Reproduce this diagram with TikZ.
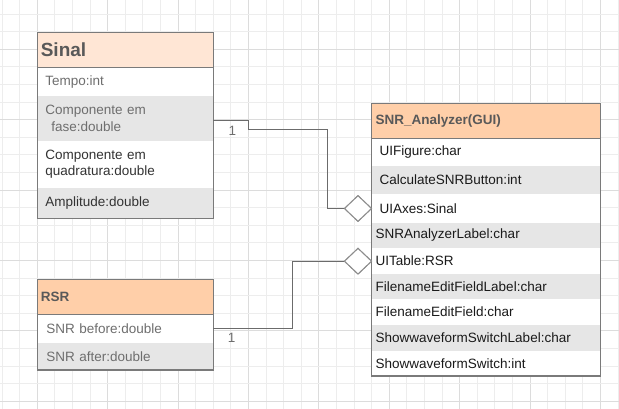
\documentclass[tikz,border=0pt]{standalone}
\usepackage{fontspec}
\setmainfont{Liberation Sans}
\usetikzlibrary{shapes.geometric}
\definecolor{gridminor}{HTML}{EDEDED}
\definecolor{gridmajor}{HTML}{DCDCDC}
\definecolor{hdrlight}{HTML}{FFE6D5}
\definecolor{hdrpeach}{HTML}{FFCFA9}
\definecolor{rowgray}{HTML}{E6E6E6}
\definecolor{boxline}{HTML}{7A7A7A}
\definecolor{conncol}{HTML}{6B6B6B}
\definecolor{dialine}{HTML}{8C8C8C}
\definecolor{hdrtext}{HTML}{595959}
\definecolor{softtext}{HTML}{6E6E6E}
\definecolor{darktext}{HTML}{333333}
\definecolor{blacktext}{HTML}{1A1A1A}
\begin{document}
\begin{tikzpicture}[x=1pt,y=-1pt,
  cell/.style={anchor=north west, inner ysep=0pt, outer sep=0pt, align=left,
    font=\fontsize{13.5}{16.7}\selectfont},
  hdr/.style={cell, font=\fontsize{13.5}{16.7}\selectfont\bfseries, text=hdrtext},
  outline/.style={draw=boxline, line width=1.3pt},
  conn/.style={draw=conncol, line width=1pt},
  agg/.style={diamond, draw=dialine, fill=white, line width=1pt, inner sep=0pt,
    minimum width=27.4pt, minimum height=26pt},
  mult/.style={text=softtext, font=\fontsize{13.5}{16}\selectfont, inner sep=0pt}
]
\useasboundingbox (0,0) rectangle (619,409);
\fill[white] (0,0) rectangle (619,409);
% grid
\foreach \i in {0,...,35}{
  \pgfmathsetmacro\xx{2.1+17.6*\i}
  \pgfmathtruncatemacro\mm{mod(\i,4)}
  \ifnum\mm=2 \draw[gridmajor,line width=1pt] (\xx,0) -- (\xx,409);
  \else \draw[gridminor,line width=1pt] (\xx,0) -- (\xx,409); \fi
}
\foreach \j in {0,...,22}{
  \pgfmathsetmacro\yy{14.1+17.6*\j}
  \pgfmathtruncatemacro\mm{mod(\j,4)}
  \ifnum\mm=2 \draw[gridmajor,line width=1pt] (0,\yy) -- (619,\yy);
  \else \draw[gridminor,line width=1pt] (0,\yy) -- (619,\yy); \fi
}

% ---------- Sinal ----------
\node[hdr, fill=hdrlight, minimum width=176pt, minimum height=35pt, text width=170pt,
  inner xsep=3.5pt, font=\fontsize{19}{22}\selectfont\bfseries] (sH) at (37.3,32.7) {Sinal};
\node[cell, fill=white, text=softtext, minimum width=176pt, minimum height=28.3pt,
  text width=160pt, inner xsep=8pt] (sT) at (37.3,67.7) {Tempo:int};
\node[cell, fill=rowgray, text=softtext, minimum width=176pt, minimum height=44.7pt,
  text width=160pt, inner xsep=8pt] (sF) at (37.3,96) {Componente em\\\hspace*{6pt}fase:double};
\node[cell, fill=white, text=darktext, minimum width=176pt, minimum height=47pt,
  text width=160pt, inner xsep=8pt] (sQ) at (37.3,140.7) {Componente em\\quadratura:double};
\node[cell, fill=rowgray, text=darktext, minimum width=176pt, minimum height=30.6pt,
  text width=160pt, inner xsep=8pt] (sA) at (37.3,187.7) {Amplitude:double};
\draw[outline] (sH.north west) rectangle (sA.south east);
\draw[outline] (sH.south west) -- (sH.south east);

% ---------- RSR ----------
\node[hdr, fill=hdrpeach, minimum width=176pt, minimum height=35pt, text width=170pt,
  inner xsep=3.5pt] (rH) at (37.3,279.3) {RSR};
\node[cell, fill=white, text=softtext, minimum width=176pt, minimum height=28.4pt,
  text width=158pt, inner xsep=8.5pt] (r1) at (37.3,314.3) {SNR before:double};
\node[cell, fill=rowgray, text=softtext, minimum width=176pt, minimum height=27.3pt,
  text width=158pt, inner xsep=8.5pt] (r2) at (37.3,342.7) {SNR after:double};
\draw[outline] (rH.north west) rectangle (r2.south east);
\draw[outline] (rH.south west) -- (rH.south east);

% ---------- SNR_Analyzer ----------
\node[hdr, fill=hdrpeach, minimum width=229pt, minimum height=35pt, text width=221pt,
  inner xsep=4pt] (aH) at (371.7,103.3) {SNR\_Analyzer(GUI)};
\node[cell, fill=white, text=blacktext, minimum width=229pt, minimum height=27.7pt,
  text width=213pt, inner xsep=8pt] (a1) at (371.7,138.3) {UIFigure:char};
\node[cell, fill=rowgray, text=blacktext, minimum width=229pt, minimum height=28.3pt,
  text width=213pt, inner xsep=8pt] (a2) at (371.7,166) {CalculateSNRButton:int};
\node[cell, fill=white, text=blacktext, minimum width=229pt, minimum height=28.4pt,
  text width=213pt, inner xsep=8pt] (a3) at (371.7,194.3) {UIAxes:Sinal};
\node[cell, fill=rowgray, text=blacktext, minimum width=229pt, minimum height=25.6pt,
  text width=221pt, inner xsep=4pt] (a4) at (371.7,222.7) {SNRAnalyzerLabel:char};
\node[cell, fill=white, text=blacktext, minimum width=229pt, minimum height=25.7pt,
  text width=221pt, inner xsep=4pt] (a5) at (371.7,248.3) {UITable:RSR};
\node[cell, fill=rowgray, text=blacktext, minimum width=229pt, minimum height=25.3pt,
  text width=221pt, inner xsep=4pt] (a6) at (371.7,274) {FilenameEditFieldLabel:char};
\node[cell, fill=white, text=blacktext, minimum width=229pt, minimum height=25.7pt,
  text width=221pt, inner xsep=4pt] (a7) at (371.7,299.3) {FilenameEditField:char};
\node[cell, fill=rowgray, text=blacktext, minimum width=229pt, minimum height=25.7pt,
  text width=221pt, inner xsep=4pt] (a8) at (371.7,325) {ShowwaveformSwitchLabel:char};
\node[cell, fill=white, text=blacktext, minimum width=229pt, minimum height=25.3pt,
  text width=221pt, inner xsep=4pt] (a9) at (371.7,350.7) {ShowwaveformSwitch:int};
\draw[outline] (aH.north west) rectangle (a9.south east);
\draw[outline] (aH.south west) -- (aH.south east);

% ---------- aggregation connectors ----------
\node[agg] (d1) at (358,208.5) {};
\node[agg] (d2) at (358,261.2) {};
\draw[conn] ([yshift=-2.35pt]sF.east) -- ++(35,0) -- ++(0,8.6) -- ++(79,0) |- (d1.west);
\draw[conn] (r1.east) -- ++(79,0) |- (d2.west);
\node[agg] at (d1) {};
\node[agg] at (d2) {};
\node[mult] (m1) at (232.5,130.5) {1};
\node[mult] (m2) at (231.7,338.3) {1};
\end{tikzpicture}
\end{document}
